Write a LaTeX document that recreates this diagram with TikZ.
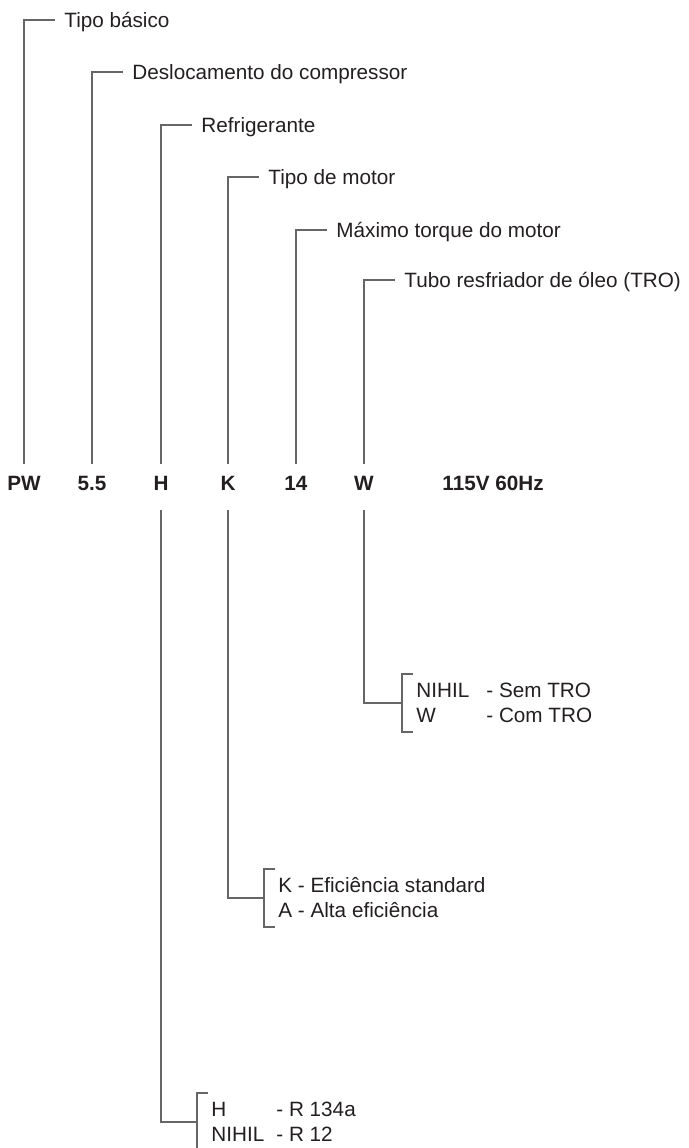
\documentclass[tikz,border=0pt]{standalone}
\usepackage{fontspec}
\setmainfont{Liberation Sans}
\usepackage{xcolor}
\usepackage{tikz}

\definecolor{lead}{HTML}{666666}
\definecolor{ink}{HTML}{231F20}

\begin{document}
\begin{tikzpicture}[
  x=0.5pt, y=-0.5pt,
  font=\fontsize{10.35}{12.5}\selectfont, text=ink,
  ln/.style={draw=lead, line width=0.65pt},
  lbl/.style={anchor=west, inner xsep=4.5pt, inner ysep=0pt, text height=7.4pt, text depth=0pt},
  code/.style={anchor=base, font=\fontsize{10.35}{12.5}\selectfont\bfseries, inner sep=0pt, text height=13pt, text depth=10pt},
  opt/.style={anchor=west, align=left, inner xsep=7pt, inner ysep=0pt, minimum height=28.5pt}
]
\useasboundingbox (0,0) rectangle (689,1148);
% code row
\node[code] (pw) at (24,490) {PW};
\node[code] (dis) at (92,490) {5.5};
\node[code] (ref) at (161,490) {H};
\node[code] (mot) at (228,490) {K};
\node[code] (trq) at (296,490) {14};
\node[code] (tro) at (364,490) {W};
\node[code, anchor=base west] (volt) at (442,490) {115V 60Hz};
% field names
\node[lbl] (tipo) at (55,20) {Tipo básico};
\node[lbl] (desl) at (123,72) {Deslocamento do compressor};
\node[lbl] (refl) at (192,125) {Refrigerante};
\node[lbl] (motl) at (259,177) {Tipo de motor};
\node[lbl] (trql) at (327,230) {Máximo torque do motor};
\node[lbl] (trol) at (395,280) {Tubo resfriador de óleo (TRO)};
\draw[ln] (pw.north) |- (tipo.west);
\draw[ln] (dis.north) |- (desl.west);
\draw[ln] (ref.north) |- (refl.west);
\draw[ln] (mot.north) |- (motl.west);
\draw[ln] (trq.north) |- (trql.west);
\draw[ln] (tro.north) |- (trol.west);
% options
\node[opt] (troo) at (402,703) {\makebox[35pt][l]{NIHIL}- Sem TRO\\\makebox[35pt][l]{W}- Com TRO};
\node[opt] (moto) at (264,898) {K - Eficiência standard\\A - Alta eficiência};
\node[opt] (refo) at (197,1122) {\makebox[32.5pt][l]{H}- R 134a\\\makebox[32.5pt][l]{NIHIL}- R 12};
\draw[ln] (tro.south) |- (troo.west);
\draw[ln] (mot.south) |- (moto.west);
\draw[ln] (ref.south) |- (refo.west);
\foreach \o in {troo,moto,refo}
  \draw[ln] ([xshift=5.5pt]\o.north west) -- (\o.north west) -- (\o.south west) -- ([xshift=5.5pt]\o.south west);
\end{tikzpicture}
\end{document}
